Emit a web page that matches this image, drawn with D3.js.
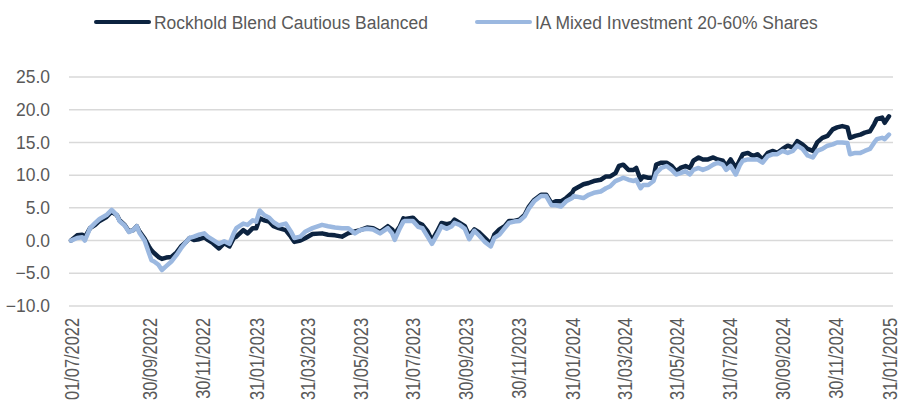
<!DOCTYPE html>
<html>
<head>
<meta charset="utf-8">
<script src="https://cdn.jsdelivr.net/npm/d3@7"></script>
<style>
  body { margin: 0; background: #fff; }
  svg { display: block; font-family: "Liberation Sans", Arial, sans-serif; }
</style>
</head>
<body>
<svg width="908" height="405"></svg>
<script>
// series names
const seriesNames = ["Rockhold Blend Cautious Balanced", "IA Mixed Investment 20-60% Shares"];

const startDate = "01/07/2022";
const dayIndex = [
    0, 7, 13, 16, 22, 28, 33, 41, 47, 53, 56, 62, 67, 72, 76, 79, 85, 90, 93, 96,
    101, 105, 110, 116, 122, 127, 133, 137, 142, 148, 154, 158, 164, 171, 177, 183, 188, 191, 199, 204,
    210, 214, 218, 223, 229, 234, 240, 248, 254, 258, 265, 271, 279, 290, 297, 305, 313, 320, 328, 334,
    342, 349, 357, 366, 371, 374, 380, 384, 386, 395, 401, 406, 412, 417, 423, 428, 434, 440, 443, 449,
    455, 460, 466, 472, 478, 485, 489, 495, 501, 506, 512, 518, 524, 529, 535, 543, 549, 555, 560, 566,
    572, 579, 581, 592, 598, 604, 612, 618, 623, 629, 633, 638, 644, 650, 653, 658, 661, 667, 673, 676,
    682, 688, 694, 699, 704, 710, 715, 719, 725, 730, 736, 742, 747, 753, 757, 762, 768, 773, 776, 782,
    788, 793, 799, 805, 811, 816, 822, 828, 834, 839, 845, 851, 857, 862, 868, 874, 880, 885, 891, 897,
    900, 906, 912, 917, 923, 928, 931, 937, 940, 945
];

// cumulative performance, %
const rockhold = [
    0, 0.8, 0.9, 0.5, 1.9, 2.4, 3.0, 3.6, 4.4, 3.9, 3.1, 2.4, 1.4, 1.6, 2.2, 1.4, 0.3, -0.9, -1.5, -1.9,
    -2.5, -2.8, -2.6, -2.5, -1.8, -0.9, -0.2, 0.4, 0.1, 0.2, 0.5, 0.1, -0.4, -1.2, -0.4, -0.9, 0.4, 0.6, 1.6, 1.1,
    1.9, 1.9, 3.4, 3.1, 2.9, 2.2, 1.9, 1.6, 0.6, -0.2, 0.0, 0.4, 1.0, 1.1, 0.9, 0.8, 0.6, 1.1, 1.4, 1.6,
    2.0, 1.9, 1.3, 2.2, 1.7, 1.0, 2.2, 3.4, 3.3, 3.5, 2.7, 2.4, 1.4, 0.0, 1.4, 2.7, 2.5, 2.7, 3.2, 2.7,
    2.2, 0.7, 1.7, 1.2, 0.4, -0.5, 0.9, 1.7, 2.2, 3.0, 3.0, 3.2, 3.9, 5.2, 6.2, 7.0, 7.0, 5.7, 6.0, 6.0,
    6.5, 7.3, 7.8, 8.6, 8.8, 9.1, 9.3, 9.8, 9.8, 10.3, 11.4, 11.6, 10.8, 10.8, 11.1, 9.3, 9.8, 9.6, 9.6, 11.6,
    11.9, 11.9, 11.4, 10.6, 11.1, 11.4, 11.1, 12.2, 12.7, 12.4, 12.4, 12.7, 12.4, 12.2, 11.4, 12.4, 11.1, 12.4, 13.2, 13.4,
    12.9, 13.2, 12.4, 13.4, 13.7, 13.4, 14.0, 14.5, 14.2, 15.2, 14.7, 14.0, 13.7, 15.0, 15.7, 16.0, 17.0, 17.3, 17.5, 17.3,
    15.7, 16.0, 16.2, 16.5, 16.7, 17.8, 18.6, 18.8, 18.0, 19.0
];
const iaMixed = [
    0, 0.4, 0.5, 0.0, 1.9, 2.7, 3.3, 3.9, 4.7, 3.9, 3.0, 2.3, 1.3, 1.6, 2.2, 1.2, 0.0, -1.9, -3.0, -3.2,
    -3.7, -4.5, -3.9, -3.2, -2.2, -1.2, -0.2, 0.4, 0.6, 0.9, 1.1, 0.6, 0.1, -0.5, -0.1, -0.5, 1.1, 1.9, 2.6, 2.4,
    3.1, 2.9, 4.6, 3.9, 3.5, 2.8, 2.3, 2.6, 1.4, 0.4, 0.6, 1.4, 1.9, 2.4, 2.2, 2.0, 1.9, 1.9, 1.1, 1.6,
    1.8, 1.7, 1.1, 1.9, 1.1, 0.1, 1.9, 2.9, 3.0, 3.0, 2.1, 1.9, 0.6, -0.5, 0.9, 2.2, 1.8, 2.2, 2.7, 2.4,
    1.8, 0.2, 1.5, 0.7, -0.2, -0.9, 0.4, 0.9, 1.9, 2.7, 2.9, 3.0, 3.7, 4.9, 6.0, 6.8, 6.8, 5.4, 5.4, 5.2,
    6.0, 6.5, 6.8, 6.5, 7.0, 7.3, 7.5, 8.0, 8.3, 9.1, 9.3, 9.6, 9.3, 9.1, 9.3, 8.0, 8.5, 8.5, 9.1, 10.3,
    11.1, 11.4, 10.8, 10.1, 10.3, 10.6, 10.1, 10.8, 11.1, 10.8, 11.1, 11.6, 11.9, 11.6, 10.8, 11.4, 10.1, 11.6, 12.2, 12.4,
    12.4, 12.4, 11.9, 12.9, 13.2, 13.2, 13.7, 13.4, 13.7, 14.5, 14.0, 13.0, 12.7, 13.7, 14.0, 14.5, 14.7, 15.0, 15.0, 14.9,
    13.2, 13.4, 13.4, 13.7, 14.0, 15.0, 15.5, 15.7, 15.5, 16.2
];

// axis ticks
const yTicks = [-10, -5, 0, 5, 10, 15, 20, 25];
const xTickLabels = ["01/07/2022", "30/09/2022", "30/11/2022", "31/01/2023", "31/03/2023", "31/05/2023",
    "31/07/2023", "30/09/2023", "30/11/2023", "31/01/2024", "31/03/2024", "31/05/2024", "31/07/2024",
    "30/09/2024", "30/11/2024", "31/01/2025"];

const colors = ["#0c2340", "#9bb8e0"];
const textColor = "#595959";

const margin = {top: 77, right: 15, bottom: 99, left: 69};
const width = 908 - margin.left - margin.right,
      height = 405 - margin.top - margin.bottom;

const parseDate = d3.timeParse("%d/%m/%Y");
const start = parseDate(startDate);
const dates = dayIndex.map(n => d3.timeDay.offset(start, n));

const data = dates.map((d, i) => ({date: d, a: rockhold[i], b: iaMixed[i]}));

const svg = d3.select("svg");
const g = svg.append("g")
    .attr("transform", `translate(${margin.left}, ${margin.top})`);

const x = d3.scaleTime()
    .domain([start, parseDate("31/01/2025")])
    .range([2, width - 4]);

const y = d3.scaleLinear()
    .domain([-10, 25])
    .range([height, 0]);

// gridlines
g.append("g").selectAll("line")
    .data(yTicks)
    .enter().append("line")
    .attr("x1", 0)
    .attr("x2", width)
    .attr("y1", d => y(d))
    .attr("y2", d => y(d))
    .attr("stroke", "#d9d9d9")
    .attr("stroke-width", 1.5);

// Y axis
const yAxis = g.append("g")
    .call(d3.axisLeft(y).tickValues(yTicks).tickFormat(d3.format(".1f")).tickSize(0).tickPadding(19));
yAxis.select(".domain").remove();
yAxis.selectAll("text")
    .attr("fill", textColor)
    .attr("font-size", "17.5px")
    .attr("font-family", "'Liberation Sans', Arial, sans-serif");

// X axis, labels squeezed along the reading direction like the original
const labelSqueeze = 0.82;
const xAxis = g.append("g")
    .attr("transform", `translate(0, ${height})`)
    .call(d3.axisBottom(x)
        .tickValues(xTickLabels.map(parseDate))
        .tickFormat(d3.timeFormat("%d/%m/%Y"))
        .tickSize(0));
xAxis.select(".domain").remove();
xAxis.selectAll("text")
    .attr("fill", textColor)
    .attr("font-size", "20px")
    .attr("font-family", "'Liberation Sans', Arial, sans-serif")
    .attr("text-anchor", "end")
    .attr("transform", `rotate(-90) scale(${labelSqueeze}, 1)`)
    .attr("x", -12 / labelSqueeze)
    .attr("y", 0)
    .attr("dy", "0.35em");

// lines
const lineA = d3.line().x(d => x(d.date)).y(d => y(d.a));
const lineB = d3.line().x(d => x(d.date)).y(d => y(d.b));

g.append("path")
    .datum(data)
    .attr("fill", "none")
    .attr("stroke", colors[0])
    .attr("stroke-width", 4.5)
    .attr("stroke-linejoin", "round")
    .attr("stroke-linecap", "round")
    .attr("d", lineA);

g.append("path")
    .datum(data)
    .attr("fill", "none")
    .attr("stroke", colors[1])
    .attr("stroke-width", 4.5)
    .attr("stroke-linejoin", "round")
    .attr("stroke-linecap", "round")
    .attr("d", lineB);

// legend
const legendX = [96, 477];
const legend = svg.append("g");
seriesNames.forEach(function(name, i) {
    legend.append("line")
        .attr("x1", legendX[i])
        .attr("x2", legendX[i] + 53)
        .attr("y1", 22)
        .attr("y2", 22)
        .attr("stroke", colors[i])
        .attr("stroke-width", 4)
        .attr("stroke-linecap", "round");
    legend.append("text")
        .attr("transform", `translate(${legendX[i] + 58}, 22) scale(0.92, 1)`)
        .attr("dy", "0.35em")
        .attr("fill", textColor)
        .attr("font-size", "19px")
        .text(name);
});
</script>
</body>
</html>
